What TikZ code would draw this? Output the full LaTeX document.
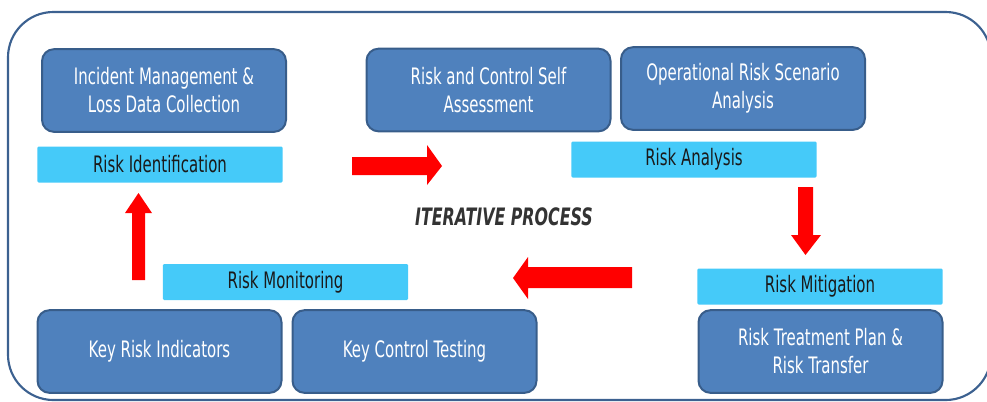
\documentclass[tikz,border=0pt]{standalone}
\usepackage{fontspec}
\setmainfont{DejaVu Sans}[FakeStretch=0.66]
\definecolor{boxfill}{HTML}{4F81BD}
\definecolor{boxline}{HTML}{385D8A}
\definecolor{labfill}{HTML}{45CAF9}
\definecolor{outline}{HTML}{3C6190}
\definecolor{arrred}{HTML}{FF0000}
\definecolor{txtdark}{HTML}{1A1A1A}
\definecolor{titlegray}{HTML}{333333}
\begin{document}
\begin{tikzpicture}[x=0.75pt,y=-0.75pt,
  bluebox/.style={draw=boxline,line width=1.5pt,fill=boxfill,rounded corners=9pt,
    minimum width=183pt,minimum height=62pt,align=center,text=white,
    font=\fontsize{17}{21}\selectfont,inner sep=0pt},
  labelbar/.style={fill=labfill,rounded corners=1pt,minimum width=184pt,
    minimum height=27pt,text=txtdark,font=\fontsize{17}{21}\selectfont,inner sep=0pt},
  redarrow/.style={fill=arrred,draw=none}]
\useasboundingbox (0,0) rectangle (987,401);
\begin{scope}
\clip (0,0) rectangle (987,401);
\draw[outline,line width=1.6pt,rounded corners=34pt] (8,12) rectangle (991,400);
\end{scope}
% dark boxes
\node[bluebox] (incident) at (164,90.5) {Incident Management \&\\Loss Data Collection};
\node[bluebox] (rcsa) at (488.5,90) {Risk and Control Self\\Assessment};
\node[bluebox] (orsa) at (743,88.5) {Operational Risk Scenario\\Analysis};
\node[bluebox] (kri) at (159.5,351.5) {Key Risk Indicators};
\node[bluebox] (kct) at (414.5,351.5) {Key Control Testing};
\node[bluebox] (rtp) at (820.5,351.5) {Risk Treatment Plan \&\\Risk Transfer};
% light labels
\node[labelbar] (ident) at (160,164.5) {Risk Identification};
\node[labelbar] (analysis) at (694,159.5) {Risk Analysis};
\node[labelbar] (monitor) at (285.5,282) {Risk Monitoring};
\node[labelbar] (mitig) at (820,286.5) {Risk Mitigation};
% title
\node[text=titlegray,font=\fontsize{18}{22}\selectfont\bfseries\itshape] (iter) at (504,217) {ITERATIVE PROCESS};
% block arrows
\fill[redarrow] (352,157) -- (427,157) -- (427,145) -- (442,166) -- (427,185) -- (427,175) -- (352,175) -- cycle;
\fill[redarrow] (798,187) -- (813,187) -- (813,235) -- (821,235) -- (805.5,255) -- (791,235) -- (798,235) -- cycle;
\fill[redarrow] (632,267) -- (528,267) -- (528,257) -- (513,278) -- (528,299) -- (528,288) -- (632,288) -- cycle;
\fill[redarrow] (132,280) -- (132,213) -- (125,213) -- (138.5,193) -- (152,213) -- (145,213) -- (145,280) -- cycle;
\end{tikzpicture}
\end{document}
